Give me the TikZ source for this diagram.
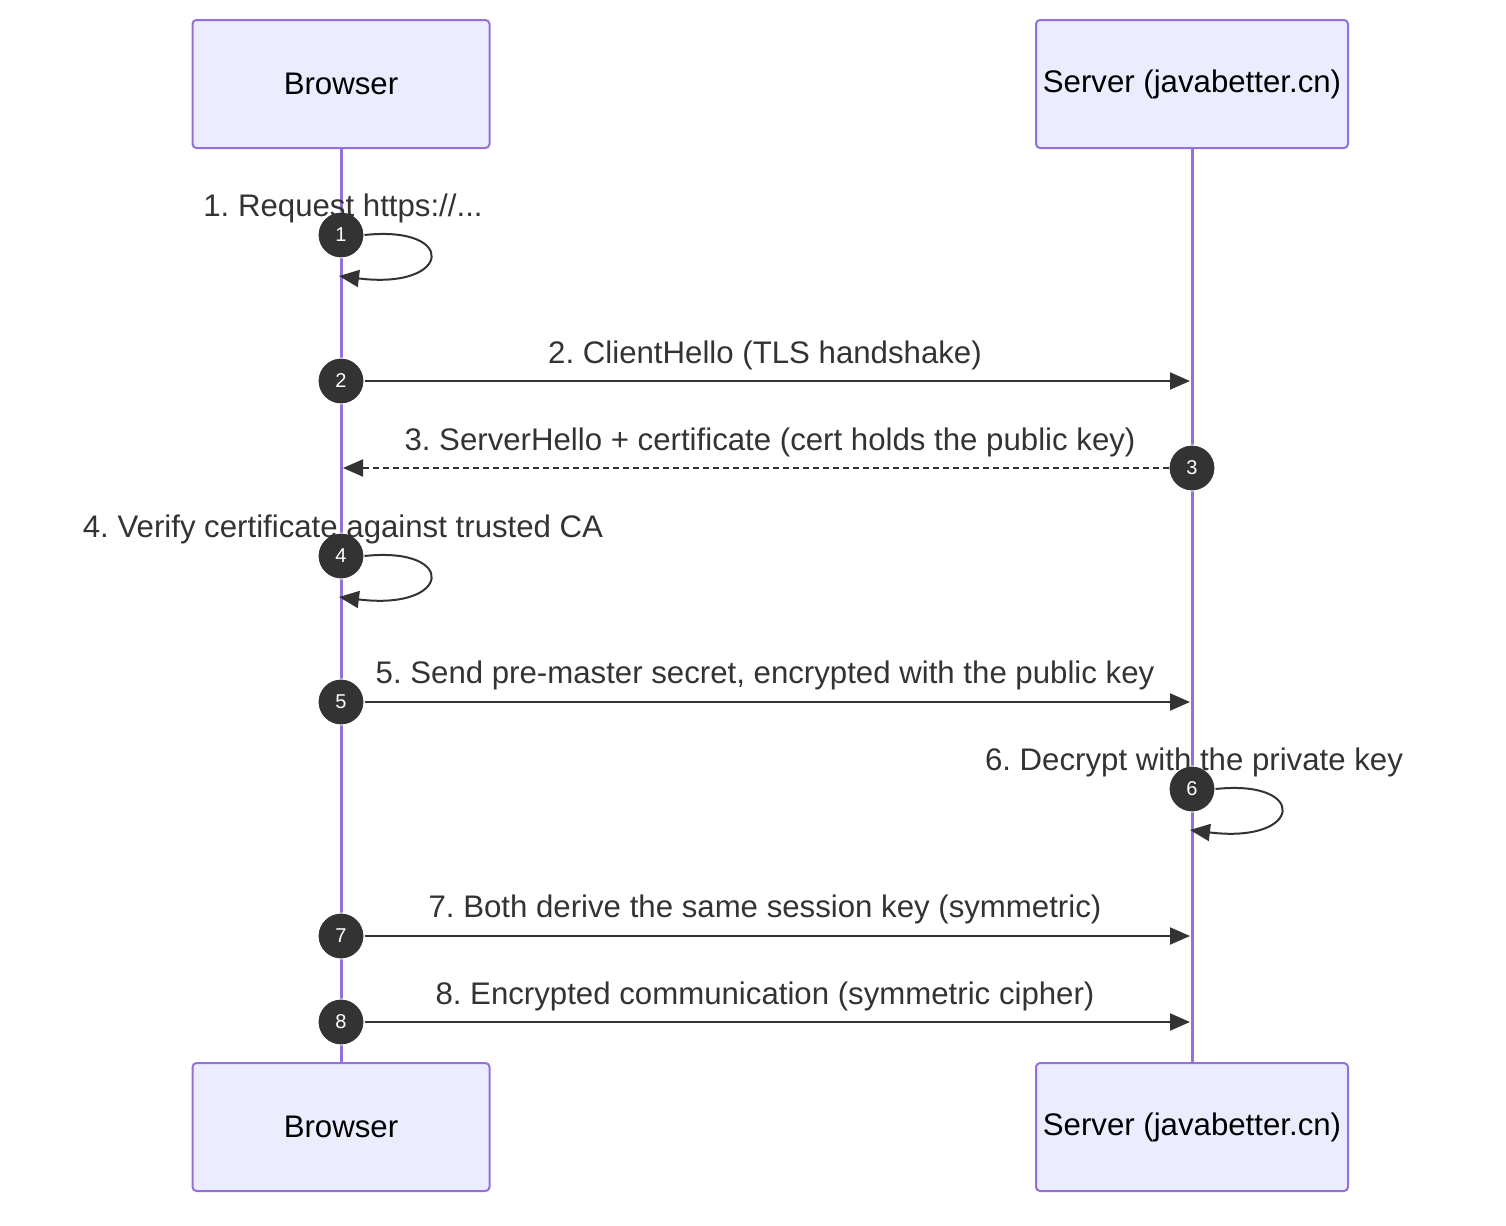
\documentclass[tikz,border=0pt]{standalone}
\usepackage{fontspec}
\setmainfont{Liberation Sans}
\frenchspacing
\usetikzlibrary{arrows.meta,positioning}
\definecolor{actfill}{HTML}{ECECFF}
\definecolor{actline}{HTML}{9370DB}
\definecolor{ink}{HTML}{333333}

\begin{document}
\begin{tikzpicture}[x=0.5pt,y=-0.5pt,font=\fontsize{15.6}{18}\selectfont,
    actor/.style={draw=actline,fill=actfill,line width=1pt,rounded corners=2pt,
      minimum width=148.5pt,minimum height=64pt,inner sep=0pt},
    life/.style={actline,line width=1.5pt},
    num/.style={circle,fill=ink,draw=white,line width=0.5pt,text=white,minimum size=23pt,
      inner sep=0pt,font=\fontsize{10}{12}\selectfont},
    msg/.style={ink,line width=1pt,-{Triangle[length=10pt,width=8.5pt]}},
    lbl/.style={text=ink,inner sep=0pt}]

  \useasboundingbox (0,0) rectangle (1506,1226);

  \node[actor] (b1) at (341,84) {Browser};
  \node[actor,minimum width=156pt] (s1) at (1192,84) {Server (javabetter.cn)};
  \node[actor] (b2) at (341,1127) {Browser};
  \node[actor,minimum width=156pt] (s2) at (1192,1127) {Server (javabetter.cn)};

  \draw[life] (b1) -- (b2);
  \draw[life] (s1) -- (s2);

  % self messages
  \node[num] (n1) at (341,235) {1};
  \coordinate (r1) at (339,276);
  \draw[msg] (n1.east) .. controls (458,225) and (452,290) .. (r1);
  \node[lbl] at (343,208) {1. Request https://...};

  \node[num] (n4) at (341,556) {4};
  \coordinate (r4) at (339,597);
  \draw[msg] (n4.east) .. controls (458,546) and (452,611) .. (r4);
  \node[lbl] at (343,529) {4. Verify certificate against trusted CA};

  \node[num] (n6) at (1192,789) {6};
  \coordinate (r6) at (1190,830);
  \draw[msg] (n6.east) .. controls (1309,779) and (1303,844) .. (r6);
  \node[lbl] at (1194,762) {6. Decrypt with the private key};

  % messages between the two
  \node[num] (n2) at (341,381) {2};
  \coordinate (e2) at (1190,381);
  \draw[msg] (n2) -- (e2);
  \node[lbl] at (765,355) {2. ClientHello (TLS handshake)};

  \node[num] (n3) at (1192,468) {3};
  \coordinate (e3) at (343,468);
  \draw[msg,dashed,dash pattern=on 3pt off 2pt] (n3) -- (e3);
  \node[lbl] at (770,442) {3. ServerHello + certificate (cert holds the public key)};

  \node[num] (n5) at (341,702) {5};
  \coordinate (e5) at (1190,702);
  \draw[msg] (n5) -- (e5);
  \node[lbl] at (765,675) {5. Send pre-master secret, encrypted with the public key};

  \node[num] (n7) at (341,936) {7};
  \coordinate (e7) at (1190,936);
  \draw[msg] (n7) -- (e7);
  \node[lbl] at (765,909) {7. Both derive the same session key (symmetric)};

  \node[num] (n8) at (341,1022) {8};
  \coordinate (e8) at (1190,1022);
  \draw[msg] (n8) -- (e8);
  \node[lbl] at (765,996) {8. Encrypted communication (symmetric cipher)};
\end{tikzpicture}
\end{document}
